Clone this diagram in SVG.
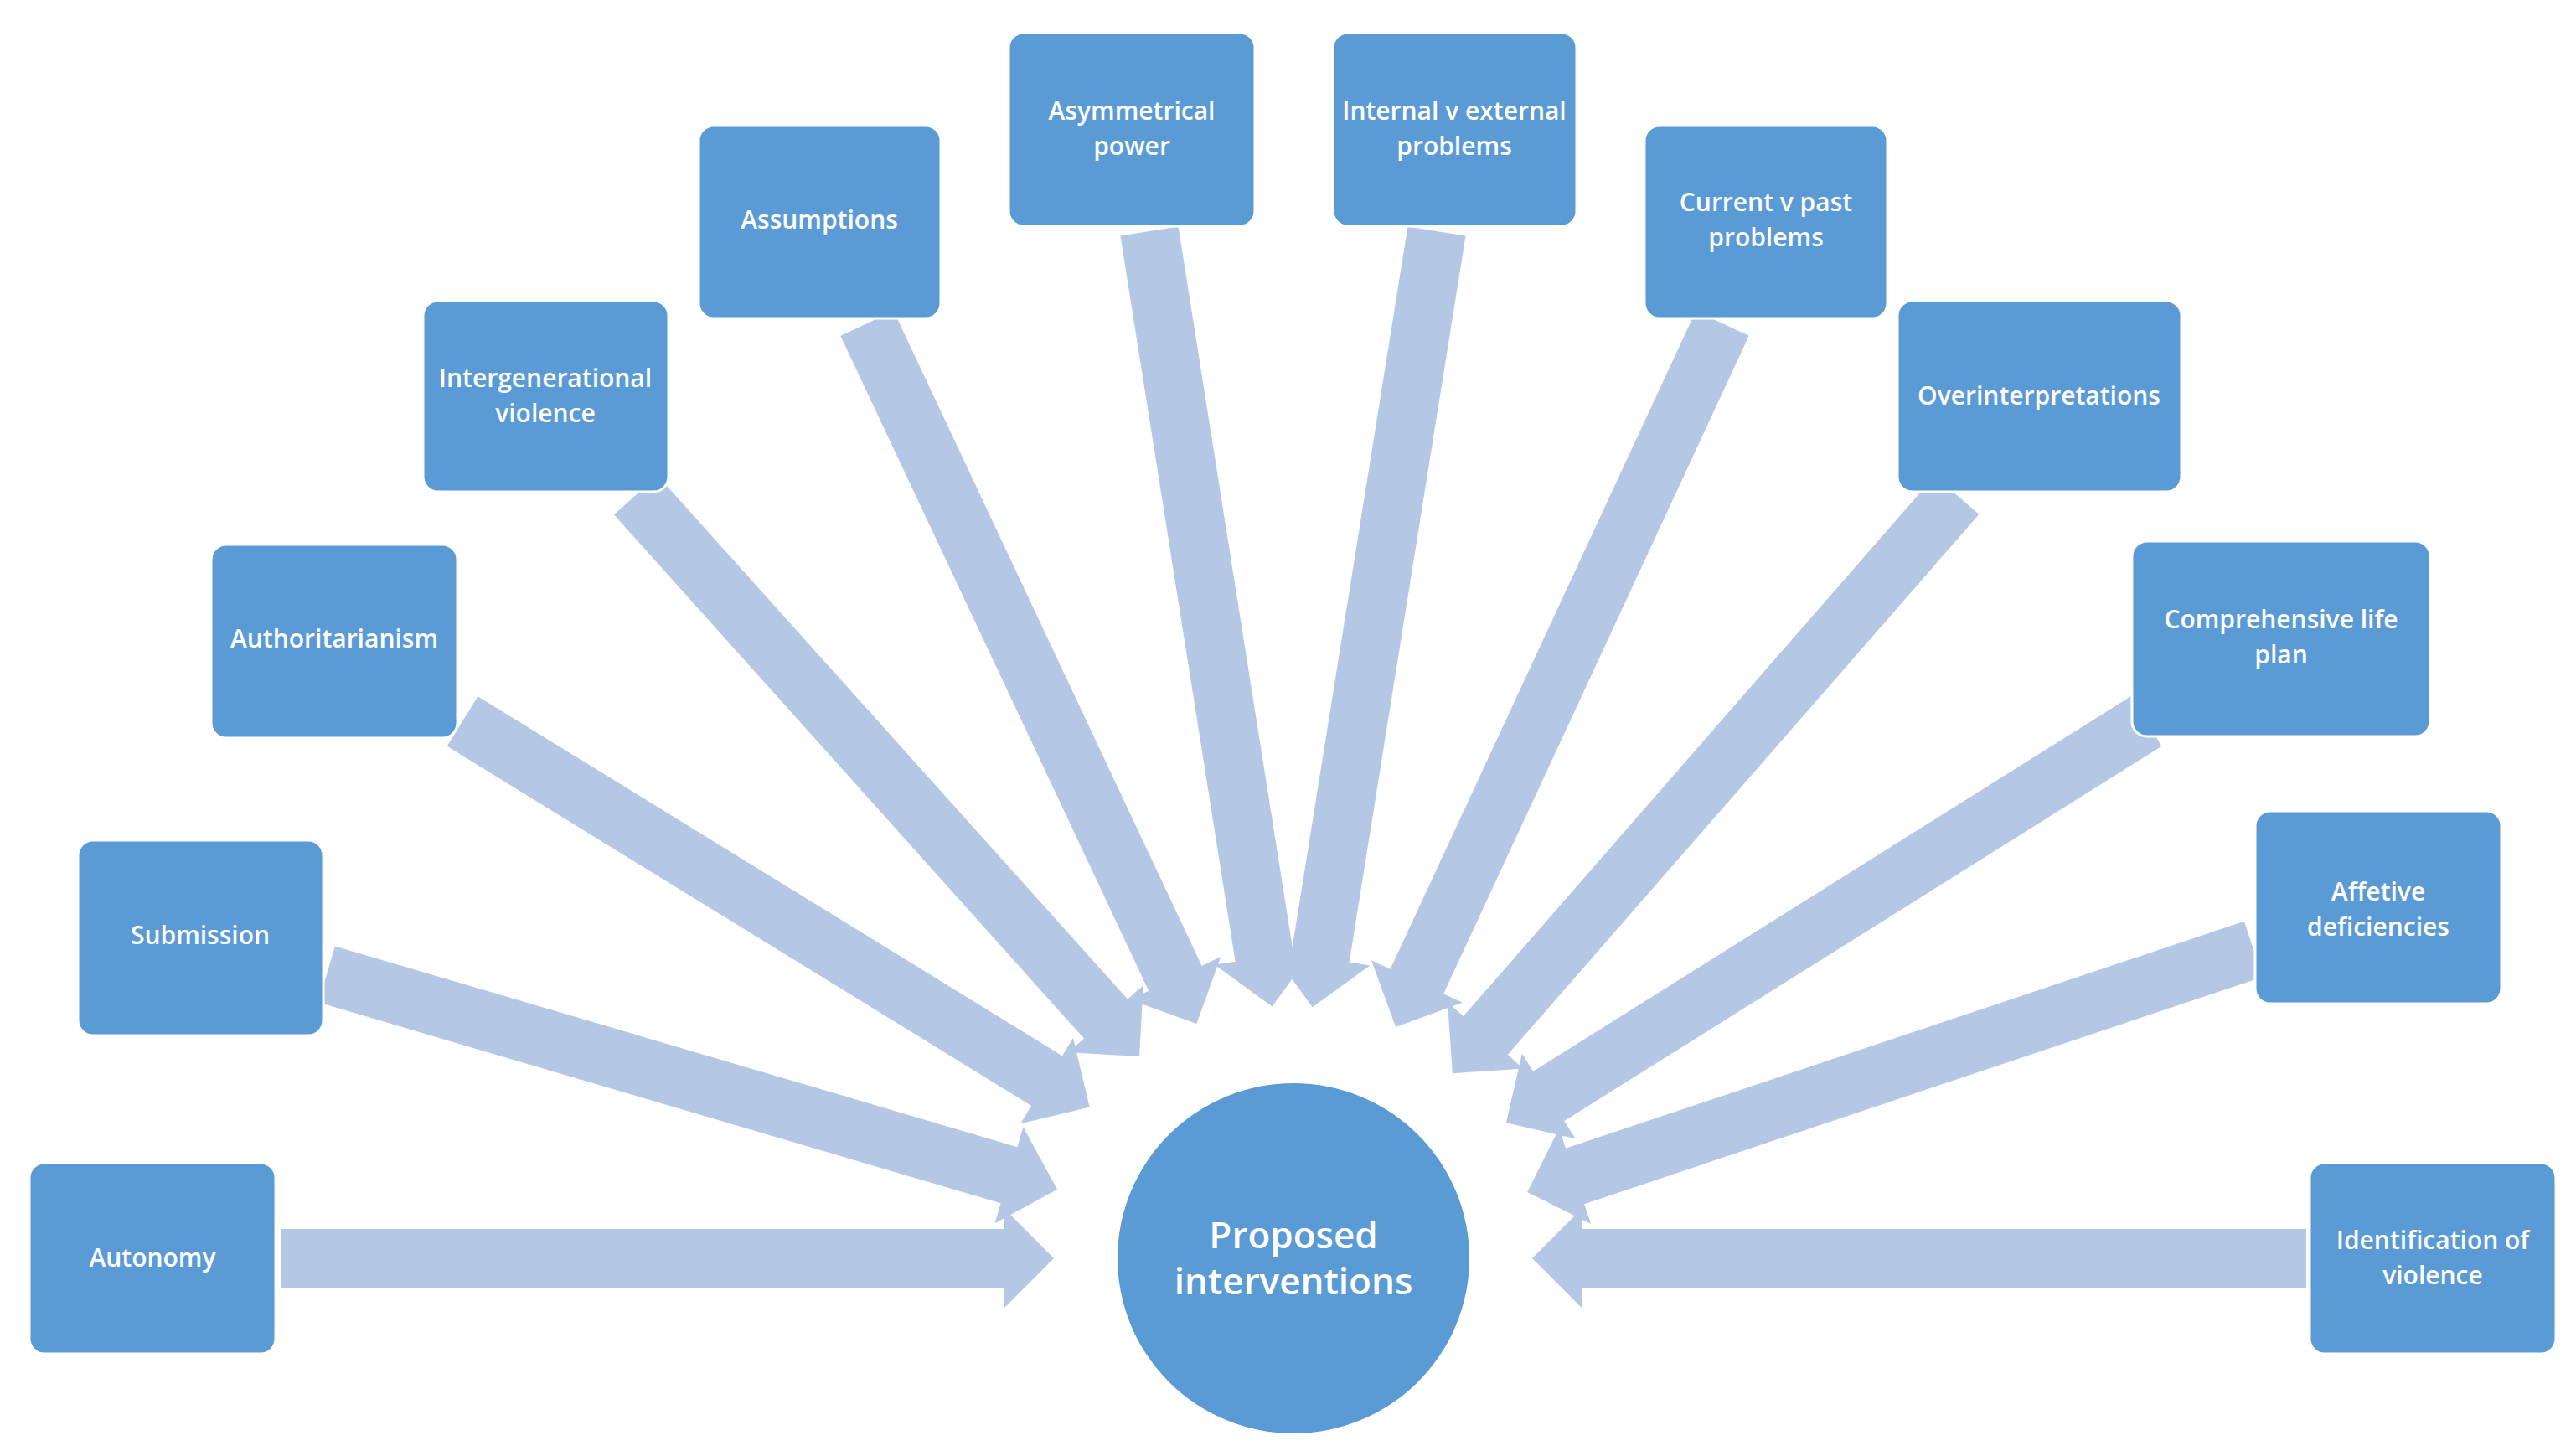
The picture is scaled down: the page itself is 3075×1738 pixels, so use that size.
<svg xmlns="http://www.w3.org/2000/svg" width="3075" height="1738" viewBox="0 0 3075 1738">
<style>
.box{fill:#5B9BD5;stroke:#ffffff;stroke-width:3}
.arr{fill:#B4C8E6}
.t{font-family:"Open Sans","Liberation Sans",sans-serif;font-size:30px;fill:#ffffff;text-anchor:middle;font-weight:600}
.c{font-family:"Open Sans","Liberation Sans",sans-serif;font-size:44px;fill:#ffffff;text-anchor:middle;font-weight:600}
</style>
<rect width="3075" height="1738" fill="#ffffff"/>
<g id="connectors">
<path class="arr" transform="translate(335,1502) rotate(0)" d="M0,-35 H863 V-60 L923,0 L863,60 V35 H0 Z"/>
<path class="arr" transform="translate(390,1163) rotate(16.4)" d="M0,-35 H849 V-60 L909,0 L849,60 V35 H0 Z"/>
<path class="arr" transform="translate(552,861) rotate(31.6)" d="M0,-35 H819 V-60 L879,0 L819,60 V35 H0 Z"/>
<path class="arr" transform="translate(759,591) rotate(48.1)" d="M0,-35 H840 V-60 L900,0 L840,60 V35 H0 Z"/>
<path class="arr" transform="translate(1035,386) rotate(64.8)" d="M0,-35 H864 V-60 L924,0 L864,60 V35 H0 Z"/>
<path class="arr" transform="translate(1372,276) rotate(81.0)" d="M0,-35 H877 V-60 L937,0 L877,60 V35 H0 Z"/>
<path class="arr" transform="translate(1715,276) rotate(99.1)" d="M0,-35 H878 V-60 L938,0 L878,60 V35 H0 Z"/>
<path class="arr" transform="translate(2056,386) rotate(114.9)" d="M0,-35 H866 V-60 L926,0 L866,60 V35 H0 Z"/>
<path class="arr" transform="translate(2336,591) rotate(131.1)" d="M0,-35 H856 V-60 L916,0 L856,60 V35 H0 Z"/>
<path class="arr" transform="translate(2562,861) rotate(147.9)" d="M0,-35 H842 V-60 L902,0 L842,60 V35 H0 Z"/>
<path class="arr" transform="translate(2690,1133) rotate(161.5)" d="M0,-35 H854 V-60 L914,0 L854,60 V35 H0 Z"/>
<path class="arr" transform="translate(2753,1502) rotate(180)" d="M0,-35 H864 V-60 L924,0 L864,60 V35 H0 Z"/>
</g>
<g id="center"><ellipse cx="1544" cy="1502" rx="210" ry="209" fill="#5B9BD5"/>
<text class="c" x="1544" y="1490">Proposed</text><text class="c" x="1544" y="1545">interventions</text></g>
<g id="autonomy"><rect class="box" x="35" y="1388" width="294" height="228" rx="18"/><text class="t" x="182" y="1512">Autonomy</text></g>
<g id="submission"><rect class="box" x="93" y="1003" width="293" height="233" rx="18"/><text class="t" x="239" y="1127">Submission</text></g>
<g id="authoritarianism"><rect class="box" x="252" y="650" width="294" height="231" rx="18"/><text class="t" x="399" y="773">Authoritarianism</text></g>
<g id="intergenerational"><rect class="box" x="505" y="359" width="293" height="228" rx="18"/><text class="t" x="651" y="462">Intergenerational</text><text class="t" x="651" y="504">violence</text></g>
<g id="assumptions"><rect class="box" x="834" y="150" width="289" height="230" rx="18"/><text class="t" x="978" y="273">Assumptions</text></g>
<g id="asymmetrical"><rect class="box" x="1204" y="39" width="294" height="231" rx="18"/><text class="t" x="1351" y="143">Asymmetrical</text><text class="t" x="1351" y="185">power</text></g>
<g id="internal"><rect class="box" x="1591" y="39" width="291" height="231" rx="18"/><text class="t" x="1736" y="143">Internal v external</text><text class="t" x="1736" y="185">problems</text></g>
<g id="current"><rect class="box" x="1963" y="150" width="290" height="230" rx="18"/><text class="t" x="2108" y="252">Current v past</text><text class="t" x="2108" y="294">problems</text></g>
<g id="overinterpretations"><rect class="box" x="2265" y="359" width="339" height="228" rx="18"/><text class="t" x="2434" y="483">Overinterpretations</text></g>
<g id="comprehensive"><rect class="box" x="2545" y="646" width="356" height="233" rx="18"/><text class="t" x="2723" y="750">Comprehensive life</text><text class="t" x="2723" y="792">plan</text></g>
<g id="affetive"><rect class="box" x="2692" y="968" width="294" height="230" rx="18"/><text class="t" x="2839" y="1075">Affetive</text><text class="t" x="2839" y="1117">deficiencies</text></g>
<g id="identification"><rect class="box" x="2757" y="1388" width="294" height="228" rx="18"/><text class="t" x="2904" y="1491">Identification of</text><text class="t" x="2904" y="1533">violence</text></g>
</svg>
